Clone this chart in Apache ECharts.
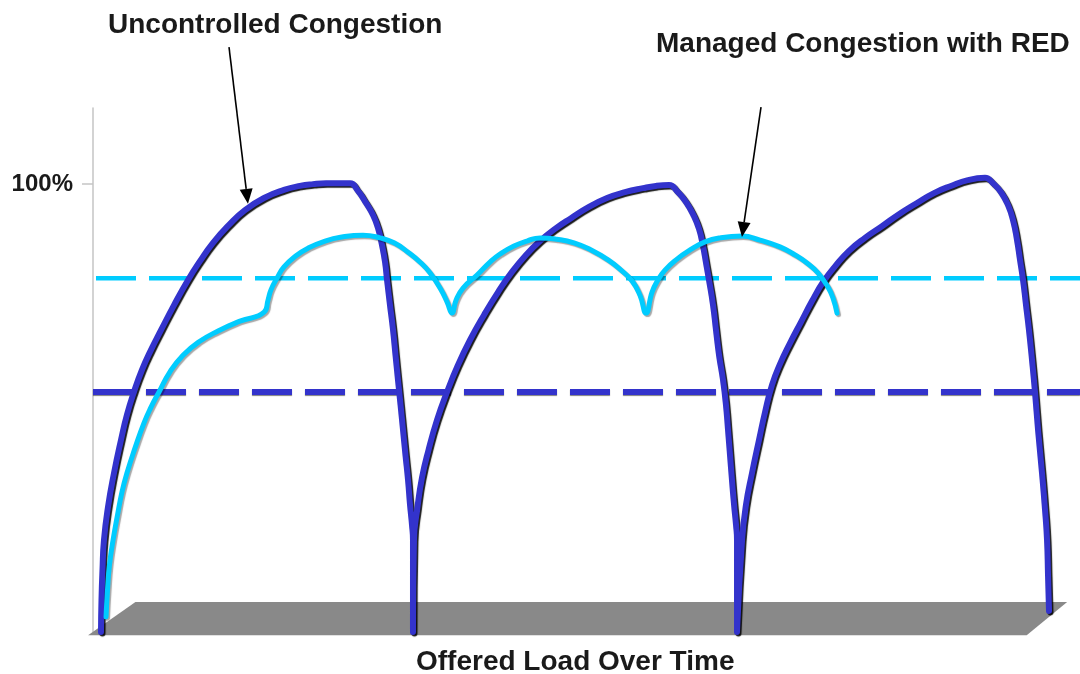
<!DOCTYPE html>
<html>
<head>
<meta charset="utf-8">
<script src="https://cdn.jsdelivr.net/npm/echarts@6/dist/echarts.min.js"></script>
<style>html,body{margin:0;padding:0;background:#fff}#c{width:1080px;height:674px}</style>
</head>
<body>
<div id="c"></div>
<script>
// ---- data (time on x, load in % on y) ----
const uncontrolledX = [0.81, 0.86, 0.96, 1.11, 1.52, 2.13, 2.84, 3.44, 4.15, 4.96, 5.88, 6.89, 8.21, 9.63, 10.84, 12.16, 13.78, 15.40, 17.33, 19.35, 20.97, 22.29, 23.61, 24.82, 26.04,
  26.85, 27.66, 28.37, 28.88, 29.28, 29.59, 29.79, 30.09, 30.40, 30.65, 30.90, 31.16, 31.41, 31.66, 31.92, 32.12, 32.32, 32.42, 32.42,
  32.52, 32.88, 33.33, 33.99, 34.85, 35.87, 36.98, 38.20, 39.62, 41.04, 42.45, 43.87, 45.29, 46.81, 48.43, 50.25, 52.08, 53.90, 55.73, 57.04, 58.36,
  59.27, 60.08, 60.79, 61.40, 61.80, 62.11, 62.41, 62.82, 63.12, 63.43, 63.83, 64.13, 64.34, 64.54, 64.74, 64.95, 65.15, 65.25, 65.25,
  65.76, 66.16, 66.77, 67.48, 68.09, 68.80, 69.60, 70.62, 71.73, 72.85, 73.96, 75.28, 76.60, 78.22, 79.94, 81.66, 83.49, 85.21, 86.93, 88.65, 90.38,
  91.19, 92.00, 92.71, 93.21, 93.62, 93.92, 94.23, 94.53, 94.83, 95.14, 95.44, 95.75, 96.15, 96.46, 96.66, 96.76, 96.86];
const uncontrolledY = [0, 7.1, 13.8, 20.5, 27.9, 35.5, 42.9, 48.5, 53.6, 58.5, 63.0, 67.4, 73.0, 78.6, 82.8, 86.9, 90.9, 94.2, 96.9, 98.7, 99.6, 100.0, 100.2, 100.2, 100.2,
  98.5, 95.8, 93.1, 90.2, 86.4, 82.6, 78.6, 73.0, 67.4, 61.8, 56.3, 50.7, 45.1, 39.5, 33.9, 28.4, 23.9, 20.5, 0,
  20.5, 27.9, 34.4, 40.6, 47.3, 53.6, 59.6, 65.2, 70.8, 75.9, 80.4, 84.2, 87.3, 90.0, 92.4, 94.9, 96.9, 98.2, 99.1, 99.6, 99.8,
  98.2, 96.0, 93.3, 90.0, 86.2, 82.4, 78.6, 73.0, 67.4, 61.8, 56.3, 50.7, 45.1, 39.5, 33.9, 28.4, 23.9, 20.5, 0,
  20.5, 28.4, 35.5, 42.9, 49.1, 55.2, 59.8, 64.5, 69.2, 73.9, 78.1, 81.9, 85.1, 88.0, 90.6, 93.3, 95.8, 98.0, 99.6, 100.9, 101.4,
  100.2, 98.2, 95.3, 92.0, 87.5, 83.1, 78.6, 73.0, 67.4, 60.7, 53.6, 45.1, 35.5, 27.2, 20.5, 12.7, 4.7];
const managedX = [1.32, 1.47, 1.67, 2.03, 2.48, 2.94, 3.44, 4.26, 5.17, 5.88, 6.69, 7.80, 9.12, 10.74, 12.67, 14.89, 17.33,
  17.73, 18.03, 18.64, 19.35, 20.57, 21.78, 23.51, 25.23, 27.36, 29.08, 30.50, 31.92, 33.23, 34.14, 35.16, 35.87, 36.37,
  36.78, 37.49, 38.91, 40.22, 41.24, 42.65, 43.97, 45.29, 47.01, 48.73, 50.46, 52.18, 53.50, 54.61, 55.42, 56.03,
  56.64, 57.24, 57.95, 59.07, 60.49, 62.01, 63.53, 65.76, 67.58, 69.60, 71.12, 72.34, 73.45, 74.47, 74.97, 75.38];
const managedY = [3.4, 9.4, 15.0, 20.5, 26.1, 31.3, 35.5, 41.1, 46.7, 50.2, 53.6, 58.1, 61.8, 64.8, 67.2, 69.4, 71.4,
  74.1, 76.4, 79.0, 81.5, 84.0, 85.7, 87.3, 88.2, 88.6, 88.0, 86.9, 84.8, 82.4, 80.2, 76.8, 73.7, 71.2,
  74.1, 76.8, 79.7, 82.6, 84.4, 86.2, 87.3, 88.0, 87.7, 86.9, 85.3, 83.1, 80.8, 78.4, 75.2, 71.2,
  75.9, 78.6, 80.8, 83.1, 85.3, 87.1, 88.0, 88.4, 87.5, 86.0, 84.2, 82.4, 80.2, 77.0, 74.6, 71.2];
const tailDropLevel = 53.6;   // dark dashed line
const redLevel = 79.0;        // light dashed line
const timeRange = [0, 100];
const yTickValues = [100];
const floorX = [-0.5, 94.6, 98.7, 4.3];
const floorY = [-0.7, -0.7, 6.7, 6.7];
const arrowUncontrolled = [[13.78, 130.6], [15.70, 95.6]];
const arrowManaged = [[67.68, 117.2], [65.75, 88.2]];
const labelUncontrolled = 'Uncontrolled Congestion';
const labelManaged = 'Managed Congestion with RED';
const labelXAxis = 'Offered Load Over Time';

const pairs = (xs, ys) => xs.map((x, i) => [x, ys[i]]);
const FONT = '"Liberation Sans", Arial, Helvetica, sans-serif';
const DARK = '#3333cc', CYAN = '#00ccff';
const textStyle = (t) => ({text: t, font: 'bold 28px ' + FONT, fill: '#1a1a1a', textAlign: 'left', textVerticalAlign: 'middle', align: 'left', verticalAlign: 'middle'});

const chart = echarts.init(document.getElementById('c'), null, {renderer: 'canvas'});
chart.setOption({
  backgroundColor: '#ffffff',
  animation: false,
  grid: {left: 93, right: 0, top: 108, bottom: 42, containLabel: false},
  xAxis: {type: 'value', min: timeRange[0], max: timeRange[1], show: false},
  yAxis: {
    type: 'value', min: 0, max: 117, interval: 100,
    axisLine: {show: true, lineStyle: {color: '#c4c4c4', width: 1.5}},
    axisTick: {show: true, length: 11, customValues: yTickValues, lineStyle: {color: '#c4c4c4', width: 1.5}},
    axisLabel: {show: true, customValues: yTickValues, margin: 20, fontFamily: FONT, fontSize: 24, fontWeight: 'bold', color: '#1a1a1a',
      formatter: v => (v === 100 ? v + '%' : '')},
    splitLine: {show: false}
  },
  graphic: [
    {type: 'text', id: 't1', x: 108, y: 25, silent: true, style: textStyle(labelUncontrolled)},
    {type: 'text', id: 't2', x: 656, y: 44, silent: true, style: textStyle(labelManaged)},
    {type: 'text', id: 't3', x: 416, y: 662, silent: true, style: textStyle(labelXAxis)}
  ],
  series: [
    {
      type: 'custom', silent: true, z: 1, clip: false,
      data: [[0, 0]],
      renderItem: (params, api) => ({
        type: 'polygon',
        shape: {points: floorX.map((x, i) => api.coord([x, floorY[i]]))},
        style: {fill: '#898989', stroke: null}
      })
    },
    {
      type: 'line', silent: true, z: 2, showSymbol: false, symbol: 'none',
      data: [[timeRange[0], tailDropLevel], [timeRange[1], tailDropLevel]],
      lineStyle: {color: DARK, width: 6, type: [40, 13], dashOffset: 0,
        shadowColor: 'rgba(0,0,0,0.5)', shadowBlur: 1, shadowOffsetY: 1}
    },
    {
      type: 'line', silent: true, z: 2, showSymbol: false, symbol: 'none',
      data: [[timeRange[0], redLevel], [timeRange[1], redLevel]],
      lineStyle: {color: CYAN, width: 4.5, type: [40, 13], dashOffset: 50}
    },
    {
      type: 'line', silent: true, z: 4, showSymbol: false, symbol: 'none', smooth: 0.5, clip: false,
      data: pairs(uncontrolledX, uncontrolledY),
      lineStyle: {color: DARK, width: 6, cap: 'round', join: 'round',
        shadowColor: 'rgba(0,0,0,0.9)', shadowBlur: 1, shadowOffsetX: 1.5, shadowOffsetY: 1.5}
    },
    {
      type: 'line', silent: true, z: 5, showSymbol: false, symbol: 'none', smooth: 0.5, clip: false,
      data: pairs(managedX, managedY),
      lineStyle: {color: CYAN, width: 5, cap: 'round', join: 'round',
        shadowColor: 'rgba(0,0,0,0.35)', shadowBlur: 1, shadowOffsetX: 1.5, shadowOffsetY: 1.5}
    }
  ]
});

// annotation arrows, positioned through the chart's own scales
function arrow(id, pair) {
  const a = chart.convertToPixel({gridIndex: 0}, pair[0]);
  const b = chart.convertToPixel({gridIndex: 0}, pair[1]);
  const dx = b[0] - a[0], dy = b[1] - a[1];
  const len = Math.sqrt(dx * dx + dy * dy);
  const ux = dx / len, uy = dy / len;
  const headL = 15, headW = 6.5;
  const base = [b[0] - ux * headL, b[1] - uy * headL];
  return [
    {type: 'line', id: id + 'l', silent: true, z: 10,
      shape: {x1: a[0], y1: a[1], x2: base[0], y2: base[1]},
      style: {stroke: '#000', lineWidth: 1.6}},
    {type: 'polygon', id: id + 'h', silent: true, z: 10,
      shape: {points: [b, [base[0] - uy * headW, base[1] + ux * headW], [base[0] + uy * headW, base[1] - ux * headW]]},
      style: {fill: '#000'}}
  ];
}
chart.setOption({graphic: [].concat(arrow('a1', arrowUncontrolled), arrow('a2', arrowManaged))});
</script>
</body>
</html>
